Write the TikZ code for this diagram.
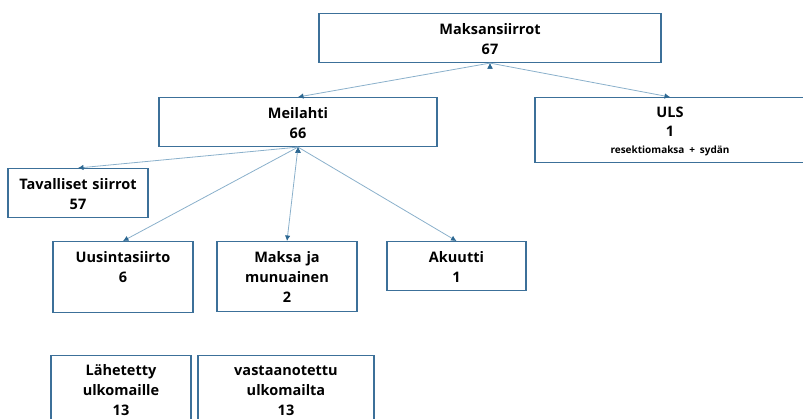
\documentclass[tikz,border=0pt]{standalone}
\usepackage{fontspec}
\setmainfont{Open Sans}
\usetikzlibrary{arrows.meta}
\definecolor{boxblue}{HTML}{3C7099}
\definecolor{linkblue}{HTML}{8AB0CB}
\definecolor{tipblue}{HTML}{2D6892}
\tikzset{
  box/.style={draw=boxblue, line width=1.1pt, anchor=north, inner sep=0pt, align=center,
    text height=21pt, font=\bfseries\fontsize{14.5}{20}\selectfont},
  link/.style={draw=linkblue, line width=0.8pt, ->, >={Latex[length=5.5pt,width=5.5pt,color=tipblue]}}
}
\begin{document}
\begin{tikzpicture}[x=1pt,y=-1pt]
  \useasboundingbox (0,0) rectangle (803,418);

  \node[box, text width=342pt, text depth=28pt] (1) at (490,13) {Maksansiirrot\\67};
  \node[box, text width=278pt, text depth=28pt] (2) at (298,97) {Meilahti\\66};
  \node[box, text width=270pt, text height=20pt, text depth=45pt] (3) at (670,97)
    {ULS\\[-1pt]1\\[-3pt]{\fontsize{10}{12}\selectfont resektiomaksa + sydän}};
  \node[box, text width=140pt, text depth=28pt] (4) at (78,168) {Tavalliset siirrot\\57};
  \node[box, text width=140pt, text depth=50pt] (5) at (123,241) {Uusintasiirto\\6};
  \node[box, text width=140pt, text depth=49pt] (6) at (287,241) {Maksa ja\\munuainen\\2};
  \node[box, text width=139pt, text depth=28pt] (7) at (456.5,241) {Akuutti\\1};
  \node[box, text width=140pt, text height=19.5pt, text depth=60pt] (8) at (121,355) {Lähetetty\\ulkomaille\\13};
  \node[box, text width=176pt, text height=19.5pt, text depth=60pt] (9) at (286,355) {vastaanotettu\\ulkomailta\\13};

  \draw[link] (1.south) edge (2.north);
  \draw[link] (1.south) edge (3.north);
  \draw[link] (2.south) edge (4.north);
  \draw[link] (2.south) edge (5.north);
  \draw[link] (2.south) edge (6.north);
  \draw[link] (2.south) edge (7.north);
\end{tikzpicture}
\end{document}
